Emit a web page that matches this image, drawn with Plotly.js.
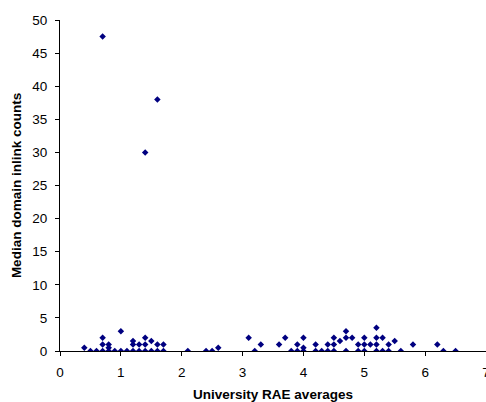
<!DOCTYPE html>
<html>
<head>
<meta charset="utf-8">
<script src="https://cdn.plot.ly/plotly-3.0.1.min.js"></script>
<style>
html,body{margin:0;padding:0;background:#fff;}
#chart{width:486px;height:402px;}
</style>
</head>
<body>
<div id="chart"></div>
<script>
const raeAverages = [
  0.4, 0.5, 0.6, 0.7, 0.7, 0.7, 0.7, 0.8, 0.8, 0.8, 0.9, 1.0, 1.0, 1.1,
  1.2, 1.2, 1.2, 1.3, 1.3, 1.4, 1.4, 1.4, 1.4, 1.5, 1.5, 1.6, 1.6, 1.6, 1.7, 1.7,
  2.1, 2.4, 2.5, 2.6,
  3.1, 3.2, 3.3, 3.6, 3.7, 3.8, 3.9, 3.9, 4.0, 4.0, 4.0,
  4.2, 4.2, 4.3, 4.4, 4.4, 4.5, 4.5, 4.5, 4.6, 4.7, 4.7, 4.7, 4.8,
  4.9, 4.9, 5.0, 5.0, 5.0, 5.1, 5.2, 5.2, 5.2, 5.2, 5.3, 5.3, 5.4, 5.4,
  5.5, 5.6, 5.8, 6.2, 6.3, 6.5
];
const medianInlinks = [
  0.5, 0, 0, 0, 1, 2, 47.5, 0, 0.5, 1, 0, 0, 3, 0,
  0, 1, 1.5, 0, 1, 0, 1, 2, 30, 0, 1.5, 0, 1, 38, 0, 1,
  0, 0, 0, 0.5,
  2, 0, 1, 1, 2, 0, 0, 1, 0, 0.5, 2,
  0, 1, 0, 0, 1, 0, 1, 2, 1.5, 0, 2, 3, 2,
  0, 1, 0, 1, 2, 1, 0, 1, 2, 3.5, 0, 2, 0, 1,
  1.5, 0, 1, 1, 0, 0
];
const xTitle = "University RAE averages";
const yTitle = "Median domain inlink counts";

const font = {family: "Liberation Sans, Arial, sans-serif", size: 13.5, color: "#000"};

Plotly.newPlot("chart", [{
  type: "scatter",
  mode: "markers",
  x: raeAverages,
  y: medianInlinks,
  marker: {symbol: "diamond", size: 5, color: "#000080", line: {width: 0}},
  hoverinfo: "skip"
}], {
  width: 486, height: 402,
  margin: {l: 60, r: 0, t: 20, b: 51, pad: 0},
  paper_bgcolor: "#fff", plot_bgcolor: "#fff",
  showlegend: false,
  font: font,
  xaxis: {
    range: [0, 7], dtick: 1, tick0: 0,
    showgrid: false, zeroline: false,
    showline: true, linecolor: "#000", linewidth: 1,
    ticks: "outside", ticklen: 4, tickcolor: "#000",
    ticklabeloverflow: "allow",
    ticklabelstandoff: 5,
    tickfont: font,
    title: {text: "<b>" + xTitle + "</b>", font: font, standoff: 12}
  },
  yaxis: {
    range: [0, 50], dtick: 5, tick0: 0,
    showgrid: false, zeroline: false,
    showline: true, linecolor: "#000", linewidth: 1,
    ticks: "outside", ticklen: 4, tickcolor: "#000",
    ticklabelstandoff: 5,
    tickfont: font,
    title: {text: "<b>" + yTitle + "</b>", font: font, standoff: 7}
  }
}, {staticPlot: true});
</script>
</body>
</html>
